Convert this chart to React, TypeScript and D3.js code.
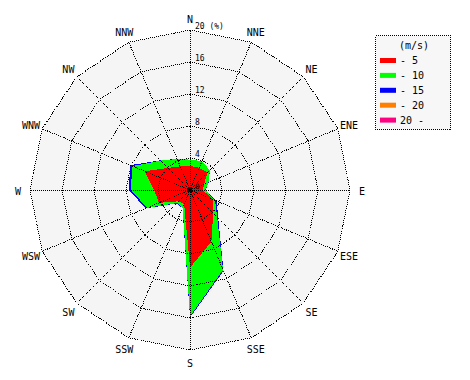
import React from "react";
import * as d3 from "d3";

const directions = ["N", "NNE", "NE", "ENE", "E", "ESE", "SE", "SSE", "S", "SSW", "SW", "WSW", "W", "WNW", "NW", "NNW"];
const speed0to5 = [3.0, 3.0, 3.1, 1.9, 1.6, 3.1, 4.1, 7.0, 9.7, 1.9, 2.0, 4.2, 4.5, 6.1, 3.9, 3.2];
const speed5to10 = [0.8, 0.9, 0.4, 0.6, 0.3, 0.3, 0.7, 3.8, 6.1, 0.5, 0.3, 1.6, 2.9, 1.7, 1.3, 1.0];
const speed10to15 = [0, 0, 0, 0.05, 0.05, 0.2, 0.2, 0.15, 0.15, 0.05, 0.1, 0.2, 0.25, 0.3, 0.05, 0];
const speed15to20 = [0, 0, 0, 0, 0, 0, 0, 0, 0, 0, 0, 0, 0, 0, 0, 0];
const speedOver20 = [0, 0, 0, 0, 0, 0, 0, 0, 0, 0, 0, 0, 0, 0, 0, 0];
const legendLabels = ["- 5", "- 10", "- 15", "- 20", "20 -"];
const legendColors = ["#ff0000", "#00ff00", "#0000ff", "#ff8000", "#ff0080"];
const ringTicks = [4, 8, 12, 16, 20];

export default function App() {
  const cx = 190;
  const cy = 190;
  const r = d3.scaleLinear().domain([0, 20]).range([0, 160]);
  const angle = d3.scaleLinear().domain([0, directions.length]).range([0, 2 * Math.PI]);
  const idx = d3.range(directions.length);

  const series = [speed0to5, speed5to10, speed10to15, speed15to20, speedOver20];
  const cumulative: number[][] = [];
  series.forEach((s, k) => {
    cumulative.push(s.map((v, i) => v + (k > 0 ? cumulative[k - 1][i] : 0)));
  });

  const radial = (vals: number[]) =>
    d3
      .lineRadial<number>()
      .angle((i) => angle(i))
      .radius((i) => r(vals[i]))
      .curve(d3.curveLinearClosed)(idx) || "";

  const ringPath = (v: number) =>
    d3
      .lineRadial<number>()
      .angle((i) => angle(i))
      .radius(() => r(v))
      .curve(d3.curveLinearClosed)(idx) || "";

  const pt = (i: number, rad: number) => {
    const a = angle(i);
    return [Math.sin(a) * rad, -Math.cos(a) * rad];
  };

  const font = "'DejaVu Sans Mono', monospace";

  return (
    <svg width={470} height={380} style={{ position: "absolute", left: 0, top: 0, background: "#fff" }}>
      <g transform={`translate(${cx},${cy})`}>
        <path d={ringPath(20)} fill="#f5f5f5" />
        {cumulative
          .map((vals, k) => ({ vals, k }))
          .reverse()
          .map(({ vals, k }) => (
            <path key={k} d={radial(vals)} fill={legendColors[k]} stroke="none" shapeRendering="crispEdges" />
          ))}
        {ringTicks.map((t) => (
          <path key={t} d={ringPath(t)} fill="none" stroke="#000" strokeWidth={1} strokeDasharray="1 1" shapeRendering="crispEdges" />
        ))}
        {idx.map((i) => {
          const [x, y] = pt(i, r(20));
          return <line key={i} x1={0} y1={0} x2={x} y2={y} stroke="#000" strokeWidth={1} strokeDasharray="1 1" shapeRendering="crispEdges" />;
        })}
        <circle cx={0} cy={0} r={2} fill="#000" />
        <text x={5} y={-1} fontFamily={font} fontSize={7.5} fill="#000">0</text>
        {ringTicks.map((t) => (
          <text key={t} x={5} y={-r(t) - 1} fontFamily={font} fontSize={8} fill="#000">
            {t === 20 ? "20 (%)" : String(t)}
          </text>
        ))}
        {directions.map((d, i) => {
          const [x, y] = pt(i, 172);
          return (
            <text key={d} x={x} y={y + 1} textAnchor="middle" dominantBaseline="central" fontFamily={font} fontSize={10} fill="#000">
              {d}
            </text>
          );
        })}
      </g>
      <g>
        <rect x={375.5} y={35.5} width={75} height={94} fill="#f7f7f7" stroke="#000" strokeDasharray="1 1" shapeRendering="crispEdges" />
        <text x={414} y={45} textAnchor="middle" dominantBaseline="central" fontFamily={font} fontSize={10} fill="#000">
          (m/s)
        </text>
        {legendLabels.map((l, k) => (
          <g key={l}>
            <rect x={380} y={58 + k * 14.9} width={16} height={5} fill={legendColors[k]} />
            <text x={400} y={60.5 + k * 14.9} dominantBaseline="central" fontFamily={font} fontSize={10} fill="#000">
              {l}
            </text>
          </g>
        ))}
      </g>
    </svg>
  );
}
